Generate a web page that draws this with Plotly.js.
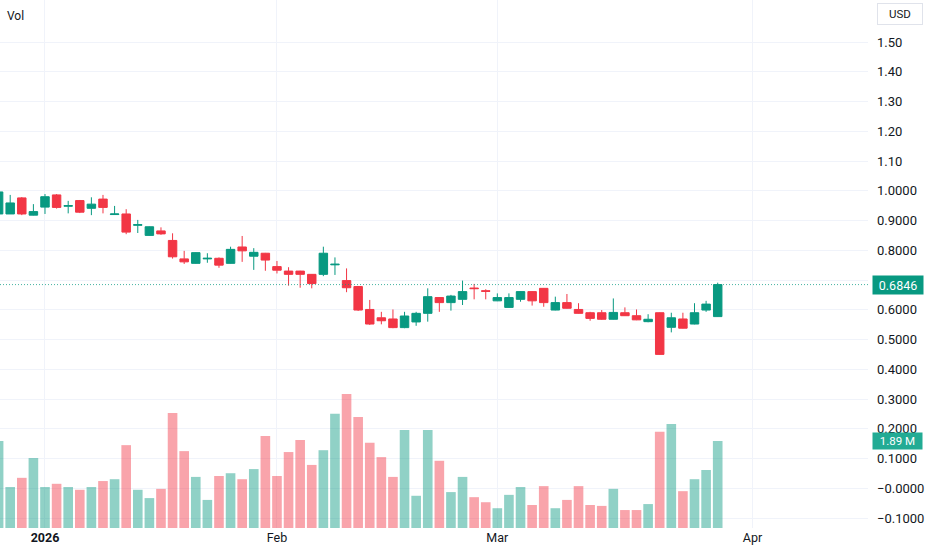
<!DOCTYPE html>
<html>
<head>
<meta charset="utf-8">
<script src="https://cdn.plot.ly/plotly-3.0.1.min.js"></script>
<style>
  html, body { margin: 0; padding: 0; background: #ffffff; }
  #chart { width: 932px; height: 550px; }
</style>
</head>
<body>
<div id="chart"></div>
<script>
// ---- Data ----
const dates = [
  '2025-12-26','2025-12-29','2025-12-30','2025-12-31',
  '2026-01-02','2026-01-05','2026-01-06','2026-01-07','2026-01-08','2026-01-09',
  '2026-01-12','2026-01-13','2026-01-14','2026-01-15','2026-01-16',
  '2026-01-20','2026-01-21','2026-01-22','2026-01-23',
  '2026-01-26','2026-01-27','2026-01-28','2026-01-29','2026-01-30',
  '2026-02-02','2026-02-03','2026-02-04','2026-02-05','2026-02-06',
  '2026-02-09','2026-02-10','2026-02-11','2026-02-12','2026-02-13',
  '2026-02-17','2026-02-18','2026-02-19','2026-02-20',
  '2026-02-23','2026-02-24','2026-02-25','2026-02-26','2026-02-27',
  '2026-03-02','2026-03-03','2026-03-04','2026-03-05','2026-03-06',
  '2026-03-09','2026-03-10','2026-03-11','2026-03-12','2026-03-13',
  '2026-03-16','2026-03-17','2026-03-18','2026-03-19','2026-03-20',
  '2026-03-23','2026-03-24','2026-03-25','2026-03-26','2026-03-27'
];

const open = [
  0.922,0.922,0.976,0.918,
  0.945,0.986,0.948,0.967,0.941,0.972,
  0.920,0.922,0.884,0.850,0.865,
  0.833,0.771,0.756,0.771,
  0.773,0.756,0.811,0.780,0.790,
  0.745,0.730,0.730,0.719,0.719,
  0.751,0.698,0.678,0.601,0.573,
  0.569,0.540,0.559,0.588,
  0.641,0.624,0.635,0.673,0.664,
  0.630,0.608,0.635,0.661,0.672,
  0.599,0.624,0.601,0.590,0.590,
  0.568,0.590,0.580,0.560,0.590,
  0.541,0.569,0.552,0.599,0.577
];
const high = [
  0.997,0.986,0.979,0.955,
  0.989,0.989,0.966,0.969,0.978,0.986,
  0.949,0.938,0.902,0.880,0.877,
  0.857,0.798,0.793,0.790,
  0.776,0.812,0.848,0.807,0.791,
  0.764,0.743,0.731,0.720,0.812,
  0.776,0.739,0.680,0.633,0.593,
  0.601,0.593,0.593,0.672,
  0.642,0.650,0.698,0.687,0.669,
  0.655,0.655,0.662,0.662,0.673,
  0.644,0.653,0.622,0.593,0.599,
  0.638,0.608,0.601,0.585,0.591,
  0.590,0.590,0.622,0.630,0.691
];
const low = [
  0.921,0.922,0.918,0.917,
  0.922,0.940,0.924,0.925,0.918,0.924,
  0.919,0.854,0.858,0.849,0.852,
  0.772,0.754,0.755,0.758,
  0.741,0.755,0.761,0.734,0.731,
  0.722,0.681,0.674,0.672,0.713,
  0.717,0.659,0.596,0.549,0.551,
  0.538,0.538,0.546,0.560,
  0.593,0.597,0.616,0.635,0.635,
  0.629,0.607,0.627,0.614,0.610,
  0.598,0.604,0.587,0.563,0.566,
  0.567,0.579,0.565,0.558,0.449,
  0.524,0.537,0.551,0.593,0.576
];
const close = [
  0.996,0.959,0.922,0.930,
  0.980,0.944,0.950,0.928,0.955,0.944,
  0.922,0.861,0.886,0.879,0.855,
  0.778,0.761,0.792,0.773,
  0.750,0.803,0.798,0.793,0.767,
  0.733,0.719,0.719,0.688,0.790,
  0.753,0.674,0.599,0.552,0.563,
  0.540,0.579,0.588,0.644,
  0.624,0.646,0.661,0.671,0.662,
  0.641,0.641,0.661,0.630,0.624,
  0.624,0.605,0.588,0.571,0.568,
  0.591,0.580,0.566,0.568,0.450,
  0.573,0.538,0.590,0.619,0.6846
];
// volume in millions of shares
const volumeM = [
  1.89,0.89,1.09,1.52,
  0.89,0.96,0.89,0.83,0.89,1.02,
  1.06,1.80,0.83,0.65,0.85,
  2.50,1.67,1.11,0.61,
  1.13,1.19,1.06,1.28,2.00,
  1.13,1.65,1.91,1.37,1.69,
  2.48,2.91,2.41,1.85,1.54,
  1.11,2.13,0.70,2.13,
  1.46,0.78,1.11,0.67,0.56,
  0.43,0.72,0.89,0.50,0.91,
  0.43,0.61,0.91,0.50,0.48,
  0.85,0.39,0.39,0.52,2.09,
  2.26,0.80,1.06,1.26,1.89
];

const holidays = ['2025-12-25','2026-01-01','2026-01-19','2026-02-16'];
const monthTickDates = ['2026-01-02','2026-02-02','2026-03-02','2026-04-01'];
const monthTickText = ['<b>2026</b>','Feb','Mar','Apr'];
const priceTicks = [-0.1,0,0.1,0.2,0.3,0.4,0.5,0.6,0.7,0.8,0.9,1.0,1.1,1.2,1.3,1.4,1.5];
const priceTickText = ['\u22120.1000','\u22120.0000','0.1000','0.2000','0.3000','0.4000','0.5000','0.6000','0.7000','0.8000','0.9000','1.0000','1.10','1.20','1.30','1.40','1.50'];

// ---- Styling ----
const UP = '#089981', DOWN = '#f23645';
const UP_VOL = 'rgba(8,153,129,0.45)', DOWN_VOL = 'rgba(242,54,69,0.45)';
const mid = d => d + ' 12:00';   // centre each daily bar on its session day
const xs = dates.map(mid);
const volColors = close.map((c, i) => c >= open[i] ? UP_VOL : DOWN_VOL);
const last = close.length - 1;

const volTrace = {
  type: 'bar', x: xs, y: volumeM, yaxis: 'y2',
  marker: { color: volColors, line: { width: 0 } },
  hoverinfo: 'skip'
};
const candleTrace = {
  type: 'candlestick', x: xs, open: open, high: high, low: low, close: close,
  increasing: { line: { color: UP, width: 1 }, fillcolor: UP },
  decreasing: { line: { color: DOWN, width: 1 }, fillcolor: DOWN },
  whiskerwidth: 0,
  hoverinfo: 'skip'
};

const layout = {
  width: 932, height: 550,
  margin: { l: 0, r: 64, t: 0, b: 22, pad: 0 },
  paper_bgcolor: '#ffffff', plot_bgcolor: '#ffffff',
  showlegend: false,
  boxgap: 0.27, boxgroupgap: 0,
  bargap: 0.17,
  font: { family: 'Roboto, "Open Sans", sans-serif', size: 12, color: '#131722' },
  xaxis: {
    type: 'date',
    range: ['2025-12-26 14:54', '2026-04-15 11:00'],
    rangebreaks: [{ bounds: ['sat', 'mon'] }, { values: holidays }],
    rangeslider: { visible: false },
    tickmode: 'array', tickvals: monthTickDates.map(mid), ticktext: monthTickText,
    showgrid: true, gridcolor: '#f0f3fa', gridwidth: 1,
    zeroline: false, showline: false, ticks: '',
    tickfont: { size: 12.5, color: '#131722' },
    fixedrange: true
  },
  yaxis: {
    side: 'right',
    range: [-0.1336, 1.6412],
    tickmode: 'array', tickvals: priceTicks, ticktext: priceTickText,
    showgrid: true, gridcolor: '#f0f3fa', gridwidth: 1,
    zeroline: false, showline: false, ticks: '',
    ticklabelstandoff: 8,
    tickfont: { size: 13, color: '#131722' },
    fixedrange: true
  },
  yaxis2: {
    overlaying: 'y', range: [0, 11.47], visible: false, showgrid: false, fixedrange: true
  },
  shapes: [{
    type: 'line', xref: 'paper', x0: 0, x1: 1, yref: 'y', y0: close[last], y1: close[last],
    line: { color: 'rgba(8,153,129,0.75)', width: 1, dash: '1px,2px' }
  }],
  annotations: [
    {
      xref: 'paper', x: 1, xanchor: 'left', xshift: 4,
      yref: 'y', y: close[last], yanchor: 'middle',
      text: close[last].toFixed(4), showarrow: false,
      bgcolor: UP, borderpad: 1.5, width: 47, align: 'center',
      font: { color: '#ffffff', size: 12.5 }
    },
    {
      xref: 'paper', x: 1, xanchor: 'left', xshift: 4,
      yref: 'y2', y: volumeM[last], yanchor: 'middle',
      text: volumeM[last].toFixed(2) + ' M', showarrow: false,
      bgcolor: '#22ab94', borderpad: 1, width: 47, align: 'center',
      font: { color: '#ffffff', size: 11.5 }
    },
    {
      xref: 'paper', x: 1, xanchor: 'left', xshift: 9,
      yref: 'paper', y: 1, yanchor: 'top', yshift: -3,
      text: 'USD', showarrow: false,
      bgcolor: '#ffffff', bordercolor: '#e0e3eb', borderwidth: 1, borderpad: 3,
      width: 38, align: 'center',
      font: { color: '#131722', size: 11.5 }
    },
    {
      xref: 'paper', x: 0, xanchor: 'left', xshift: 5,
      yref: 'paper', y: 1, yanchor: 'top', yshift: -7,
      text: 'Vol', showarrow: false,
      font: { color: '#131722', size: 12 }
    }
  ]
};

Plotly.newPlot('chart', [volTrace, candleTrace], layout, { displayModeBar: false, staticPlot: true });
</script>
</body>
</html>
